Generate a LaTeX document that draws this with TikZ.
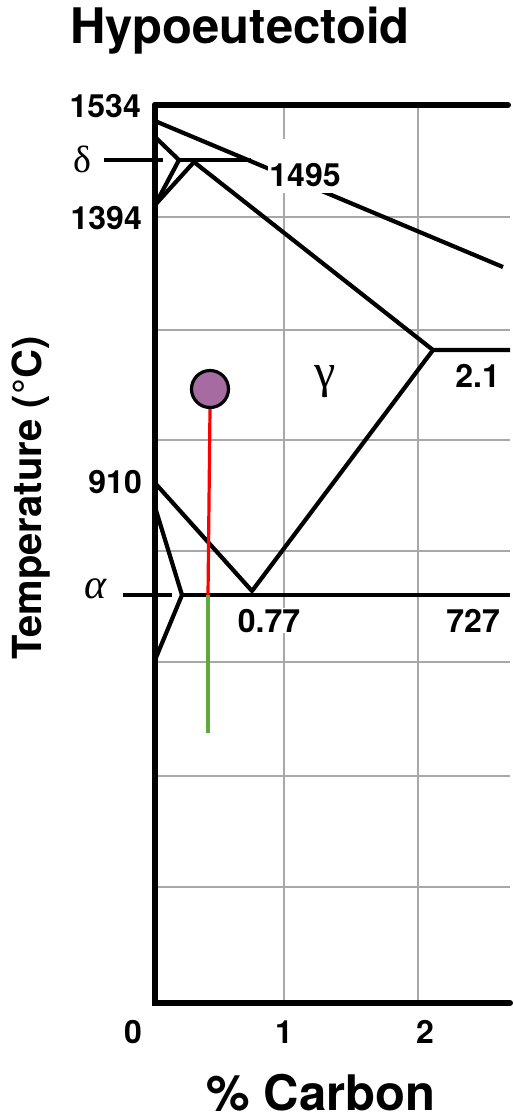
\documentclass[tikz,border=0pt]{standalone}
\usepackage{fontspec}
\setmainfont{TeX Gyre Heros}
\newfontfamily\grk{Liberation Serif}
\definecolor{ptpurple}{RGB}{166,107,160}
\definecolor{pathgreen}{RGB}{96,170,60}
\definecolor{gridgray}{RGB}{168,168,168}
\begin{document}
\begin{tikzpicture}[x=1pt,y=-1pt,
  gridline/.style={draw=gridgray,line width=2.8pt},
  axisline/.style={draw=black,line width=6pt,line cap=round},
  phase/.style={draw=black,line width=4.2pt,line join=round},
  num/.style={font=\fontsize{32}{32}\selectfont\bfseries,inner sep=1pt},
  numbg/.style={num,fill=white},
  greek/.style={font=\fontsize{38}{38}\selectfont\grk,inner sep=0pt},
  big/.style={font=\fontsize{49}{49}\selectfont\bfseries,inner sep=0pt}]
\useasboundingbox (0,0) rectangle (514,1120);
\fill[white] (0,0) rectangle (514,1120);
% grid
\foreach \gx in {284,418} \draw[gridline] (\gx,105) -- (\gx,1003);
\foreach \gy in {217,330,440,551,662,776,887} \draw[gridline] (155,\gy) -- (510,\gy);
% phase coordinates
\coordinate (liqS) at (155,121);
\coordinate (liqE) at (503,267);
\coordinate (dTop) at (155,137);
\coordinate (P) at (179,160);
\coordinate (Q) at (251,160);
\coordinate (G) at (194,162);
\coordinate (d1394) at (155,205);
\coordinate (E21) at (433,350);
\coordinate (E21r) at (510,350);
\coordinate (EU) at (252,591);
\coordinate (EL) at (182,595);
\coordinate (ER) at (510,595);
\coordinate (A3) at (155,483);
\coordinate (aTop) at (155,507);
\coordinate (aBot) at (155,660);
\coordinate (dt1) at (104,160);
\coordinate (dt2) at (163,160);
\coordinate (at1) at (123,595);
\coordinate (at2) at (172,595);
% liquidus
\draw[phase] (liqS) -- (liqE);
\node[numbg,minimum height=54pt,minimum width=68pt,inner sep=0pt] (n1495) at (302,166) {};
\node[num,anchor=base] (t1495) at (305,186) {1495};
% delta region
\draw[phase] (dTop) -- (P) -- (d1394);
\draw[phase] (P) -- (Q);
\draw[phase] (d1394) -- (G) -- (E21) -- (E21r);
\draw[phase] (dt1) -- (dt2);
% gamma/alpha
\draw[phase] (E21) -- (EU) -- (A3);
\draw[phase] (EL) -- (ER);
\draw[phase] (aTop) -- (EL) -- (aBot);
\draw[phase] (at1) -- (at2);
% axes
\draw[axisline] (155,105) -- (508,105);
\draw[axisline] (155,105) -- (155,1003) -- (510,1003);
% cooling path
\coordinate (cross) at (208,595);
\coordinate (gEnd) at (208,733);
\node[circle,draw=black,line width=3.2pt,fill=ptpurple,minimum size=37pt,inner sep=0pt] (pt) at (210,389) {};
\draw[red,line width=3.2pt] (pt.south) -- (cross);
\draw[pathgreen,line width=3.2pt] (cross) -- (gEnd);
% labels
\node[big,anchor=base] (title) at (240,43) {Hypoeutectoid};
\node[num,anchor=base east] (t1534) at (142,117) {1534};
\node[num,anchor=base east] (t1394) at (143,229) {1394};
\node[num,anchor=base east] (t910) at (143,493) {910};
\node[num,anchor=base east] (t21) at (501,387) {2.1};
\node[numbg,anchor=base] (t077) at (269,632) {0.77};
\node[num,anchor=base east] (t727) at (501,632) {727};
\node[greek,anchor=base] (tdelta) at (82,172) {δ};
\node[greek,anchor=base,font=\fontsize{48}{48}\selectfont\grk] (tgamma) at (325,387) {γ};
\node[greek,anchor=base,font=\fontsize{42}{42}\selectfont\grk\itshape] (talpha) at (96,598) {α};
\node[num,anchor=base] (x0) at (133,1043) {0};
\node[num,anchor=base] (x1) at (284,1043) {1};
\node[num,anchor=base] (x2) at (425,1043) {2};
\node[big,anchor=base] (xlab) at (321,1110) {\% Carbon};
\node[font=\fontsize{40}{40}\selectfont\bfseries,rotate=90,anchor=base] (ylab) at (41,498) {Temperature (°C)};
\end{tikzpicture}
\end{document}
